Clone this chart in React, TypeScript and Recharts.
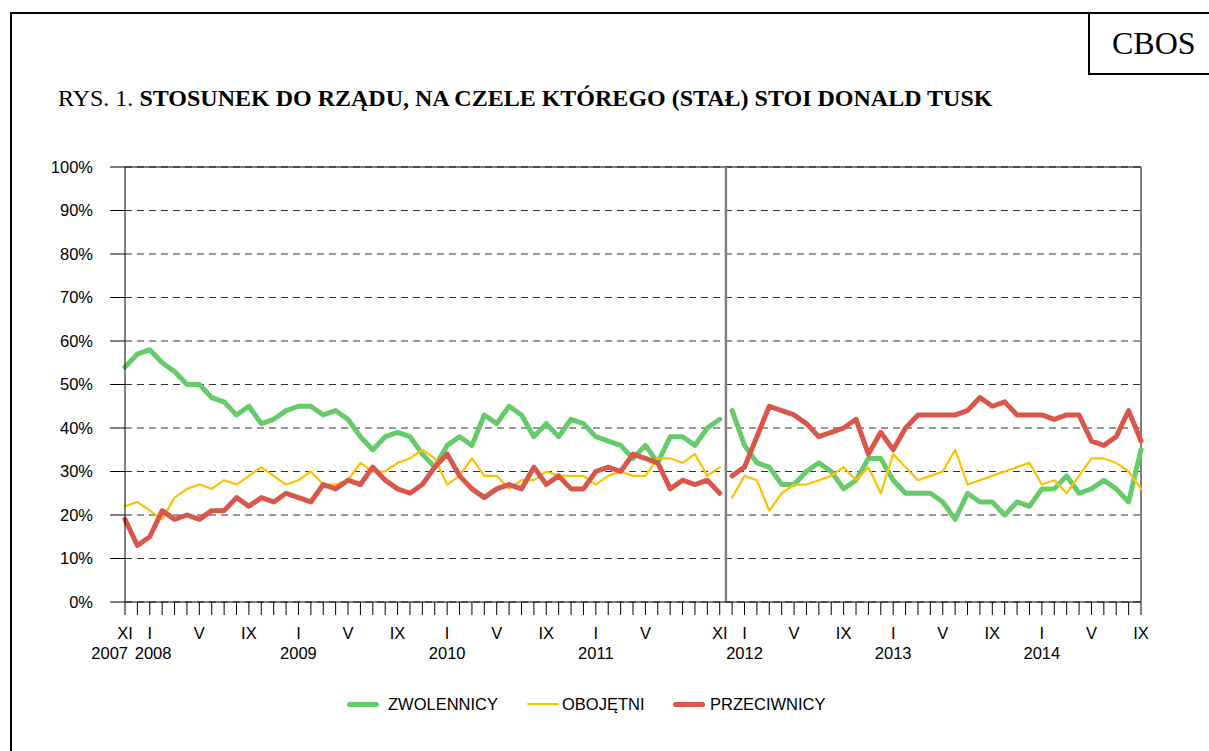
import React from "react";
import { LineChart, Line, XAxis, YAxis, CartesianGrid, ReferenceLine } from "recharts";

// XI 2007 - XI 2011 (first period)
const zwolennicy1 = [54, 57, 58, 55, 53, 50, 50, 47, 46, 43, 45, 41, 42, 44, 45, 45, 43, 44, 42, 38, 35, 38, 39, 38, 34, 31, 36, 38, 36, 43, 41, 45, 43, 38, 41, 38, 42, 41, 38, 37, 36, 33, 36, 32, 38, 38, 36, 40, 42];
const obojetni1 = [22, 23, 21, 19, 24, 26, 27, 26, 28, 27, 29, 31, 29, 27, 28, 30, 27, 27, 28, 32, 30, 30, 32, 33, 35, 33, 27, 29, 33, 29, 29, 26, 28, 28, 30, 29, 29, 29, 27, 29, 30, 29, 29, 33, 33, 32, 34, 29, 31];
const przeciwnicy1 = [19, 13, 15, 21, 19, 20, 19, 21, 21, 24, 22, 24, 23, 25, 24, 23, 27, 26, 28, 27, 31, 28, 26, 25, 27, 31, 34, 29, 26, 24, 26, 27, 26, 31, 27, 29, 26, 26, 30, 31, 30, 34, 33, 32, 26, 28, 27, 28, 25];

// XII 2011 - IX 2014 (second period)
const zwolennicy2 = [44, 36, 32, 31, 27, 27, 30, 32, 30, 26, 28, 33, 33, 28, 25, 25, 25, 23, 19, 25, 23, 23, 20, 23, 22, 26, 26, 29, 25, 26, 28, 26, 23, 35];
const obojetni2 = [24, 29, 28, 21, 25, 27, 27, 28, 29, 31, 28, 31, 25, 34, 31, 28, 29, 30, 35, 27, 28, 29, 30, 31, 32, 27, 28, 25, 29, 33, 33, 32, 30, 26];
const przeciwnicy2 = [29, 31, 38, 45, 44, 43, 41, 38, 39, 40, 42, 34, 39, 35, 40, 43, 43, 43, 43, 44, 47, 45, 46, 43, 43, 43, 42, 43, 43, 37, 36, 38, 44, 37];

const monthNames = ["I", "II", "III", "IV", "V", "VI", "VII", "VIII", "IX", "X", "XI", "XII"];
const periods = Array.from({ length: 83 }, (_, i) => {
  const m = (10 + i) % 12;
  const y = 2007 + Math.floor((10 + i) / 12);
  return `${monthNames[m]} ${y}`;
});

const tickLabels: Record<string, string[]> = {
  "XI 2007": ["XI", "2007"],
  "I 2008": ["I", "2008"],
  "V 2008": ["V"],
  "IX 2008": ["IX"],
  "I 2009": ["I", "2009"],
  "V 2009": ["V"],
  "IX 2009": ["IX"],
  "I 2010": ["I", "2010"],
  "V 2010": ["V"],
  "IX 2010": ["IX"],
  "I 2011": ["I", "2011"],
  "V 2011": ["V"],
  "XI 2011": ["XI"],
  "I 2012": ["I", "2012"],
  "V 2012": ["V"],
  "IX 2012": ["IX"],
  "I 2013": ["I", "2013"],
  "V 2013": ["V"],
  "IX 2013": ["IX"],
  "I 2014": ["I", "2014"],
  "V 2014": ["V"],
  "IX 2014": ["IX"],
};

const yTicks = [0, 10, 20, 30, 40, 50, 60, 70, 80, 90, 100];

const series = [
  { key: "zwolennicy", name: "ZWOLENNICY", color: "#66CC6A", width: 5 },
  { key: "obojetni", name: "OBOJĘTNI", color: "#FFC000", width: 2.2 },
  { key: "przeciwnicy", name: "PRZECIWNICY", color: "#D9564B", width: 5 },
];

const firstLen = zwolennicy1.length;

const data: any[] = [];
zwolennicy1.forEach((v, i) => {
  data.push({ idx: i, zwolennicy: v, obojetni: obojetni1[i], przeciwnicy: przeciwnicy1[i] });
});
// break between the two periods
data.push({ idx: firstLen - 0.5, zwolennicy: null, obojetni: null, przeciwnicy: null });
zwolennicy2.forEach((v, i) => {
  data.push({ idx: firstLen + i, zwolennicy: v, obojetni: obojetni2[i], przeciwnicy: przeciwnicy2[i] });
});

const xTicks = periods.map((_, i) => i);

const MonthTick = (props: any) => {
  const { x, y, payload } = props;
  const label = tickLabels[periods[payload.value]];
  if (!label) return null;
  let yearX = x;
  let yearAnchor: "middle" | "start" | "end" = "middle";
  if (payload.value === 0) {
    yearX = x + 3;
    yearAnchor = "end";
  } else if (payload.value === 2) {
    yearX = x - 15;
    yearAnchor = "start";
  }
  return (
    <g fill="#000" fontSize={16.5} fontFamily="Arial, 'Liberation Sans', sans-serif">
      <text x={x} y={y + 22} textAnchor="middle">{label[0]}</text>
      {label[1] && (
        <text x={yearX} y={y + 42} textAnchor={yearAnchor}>{label[1]}</text>
      )}
    </g>
  );
};

const legendPos = [
  { sample: 347, text: 388 },
  { sample: 527, text: 562 },
  { sample: 673, text: 710 },
];

export default function App() {
  return (
    <div
      style={{
        position: "absolute",
        left: 0,
        top: 0,
        width: 1209,
        height: 751,
        overflow: "hidden",
        background: "#fff",
        fontFamily: "Arial, 'Liberation Sans', sans-serif",
      }}
    >
      <div
        style={{
          position: "absolute",
          left: 10,
          top: 12,
          width: 1300,
          height: 900,
          border: "2px solid #000",
        }}
      />
      <div
        style={{
          position: "absolute",
          left: 1088,
          top: 12,
          width: 140,
          height: 63,
          borderLeft: "2px solid #000",
          borderBottom: "2px solid #000",
          fontFamily: "'Liberation Serif', 'Times New Roman', serif",
          fontSize: 32,
          lineHeight: "63px",
          paddingLeft: 22,
          boxSizing: "border-box",
        }}
      >
        CBOS
      </div>
      <div
        style={{
          position: "absolute",
          left: 58,
          top: 85,
          fontFamily: "'Liberation Serif', 'Times New Roman', serif",
          fontSize: 24,
          whiteSpace: "nowrap",
        }}
      >
        RYS. 1. <b>STOSUNEK DO RZĄDU, NA CZELE KTÓREGO (STAŁ) STOI DONALD TUSK</b>
      </div>

      <LineChart
        width={1209}
        height={751}
        data={data}
        margin={{ top: 167, right: 68, bottom: 89, left: 0 }}
        style={{ position: "absolute", left: 0, top: 0 }}
      >
        <CartesianGrid vertical={false} stroke="#333" strokeDasharray="7 5" />
        <XAxis
          dataKey="idx"
          type="number"
          domain={[0, periods.length - 1]}
          ticks={xTicks}
          interval={0}
          height={60}
          tickSize={13}
          tickMargin={2}
          stroke="#000"
          tickLine={{ stroke: "#000" }}
          tick={<MonthTick />}
        />
        <YAxis
          domain={[0, 100]}
          ticks={yTicks}
          width={125}
          tickSize={15}
          tickMargin={17}
          stroke="#000"
          tickLine={{ stroke: "#000" }}
          tick={{ fill: "#000", fontSize: 16.5 }}
          tickFormatter={(v: number) => `${v}%`}
        />
        <ReferenceLine y={100} stroke="#000" strokeWidth={1} />
        <ReferenceLine x={periods.length - 1} stroke="#000" strokeWidth={1} />
        <ReferenceLine x={firstLen - 0.5} stroke="#808080" strokeWidth={2.5} />
        {series.map((s) => (
          <Line
            key={s.key}
            type="linear"
            dataKey={s.key}
            name={s.name}
            stroke={s.color}
            strokeWidth={s.width}
            strokeLinejoin="round"
            strokeLinecap="round"
            dot={false}
            activeDot={false}
            connectNulls={false}
            isAnimationActive={false}
          />
        ))}
      </LineChart>

      {series.map((s, i) => (
        <React.Fragment key={s.key}>
          <div
            style={{
              position: "absolute",
              left: legendPos[i].sample,
              top: 704 - s.width / 2,
              width: 32,
              height: s.width,
              background: s.color,
              borderRadius: s.width / 2,
            }}
          />
          <div
            style={{
              position: "absolute",
              left: legendPos[i].text,
              top: 694,
              fontSize: 16.5,
              lineHeight: "20px",
              color: "#000",
              whiteSpace: "nowrap",
            }}
          >
            {s.name}
          </div>
        </React.Fragment>
      ))}
    </div>
  );
}
